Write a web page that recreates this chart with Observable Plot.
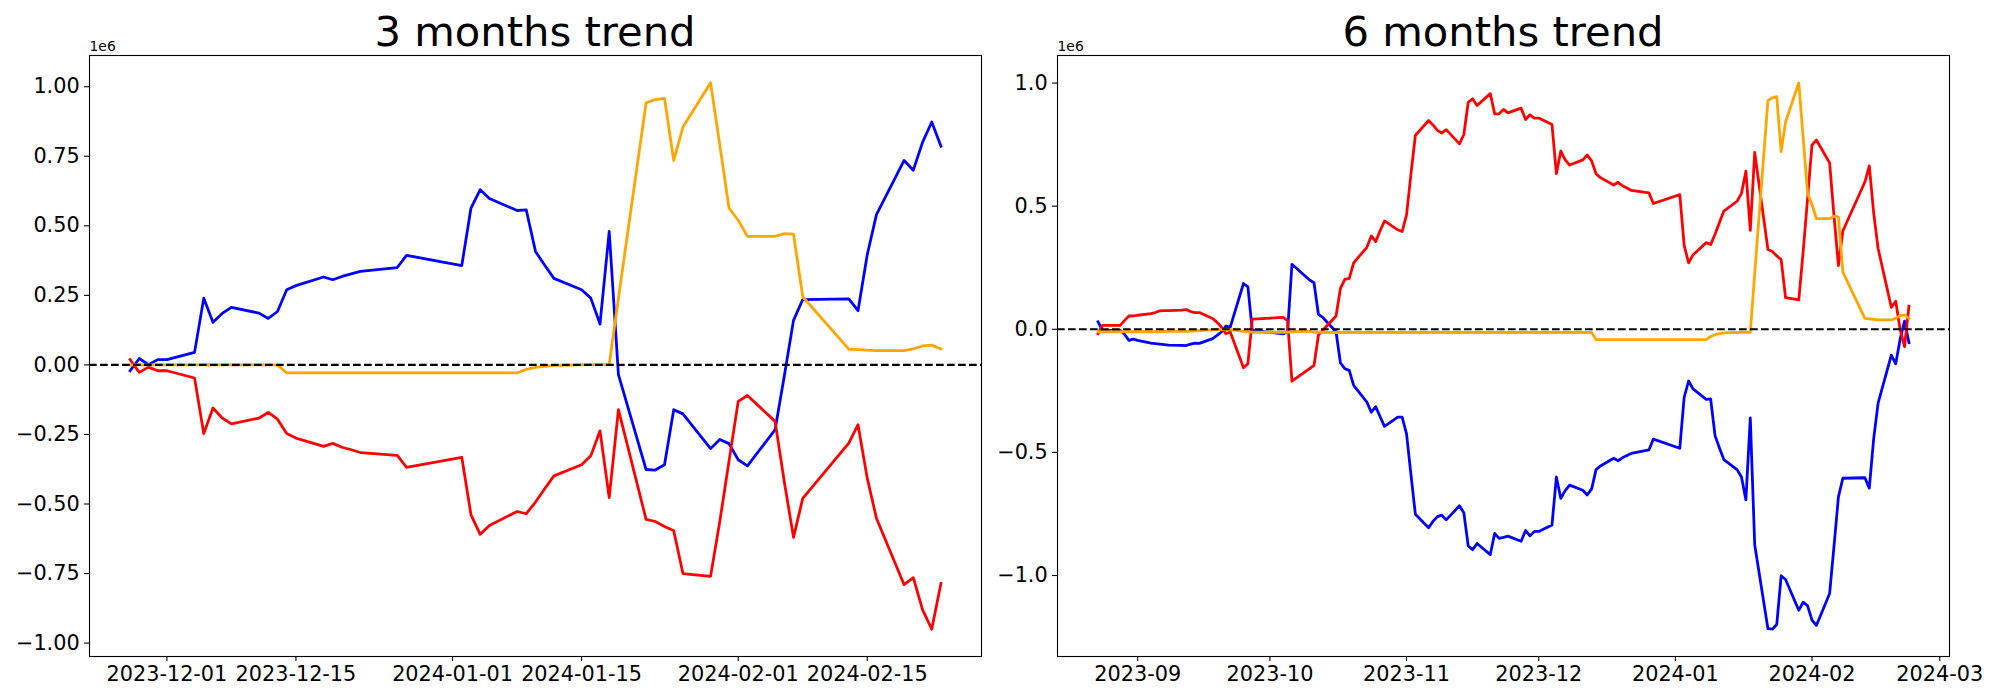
<!DOCTYPE html>
<html><head><meta charset="utf-8">
<script src="https://cdn.jsdelivr.net/npm/d3@7"></script>
<script src="https://cdn.jsdelivr.net/npm/@observablehq/plot@0.6"></script>
<style>
body{margin:0;background:#fff;}
#fig{position:relative;width:2000px;height:700px;font-family:"DejaVu Sans",sans-serif;background:#fff;}
.panel{position:absolute;top:0;}
.title{position:absolute;top:11px;font-size:41.7px;line-height:1;white-space:nowrap;transform:translateX(-50%);color:#000;font-family:"DejaVu Sans",sans-serif;}
</style></head><body>
<div id="fig"></div>
<script>
// ---------- 3 months panel ----------
const dates3 = [
"2023-11-27","2023-11-28","2023-11-29","2023-11-30","2023-12-01",
"2023-12-04","2023-12-05","2023-12-06","2023-12-07","2023-12-08",
"2023-12-11","2023-12-12","2023-12-13","2023-12-14","2023-12-15",
"2023-12-18","2023-12-19","2023-12-20","2023-12-21","2023-12-22",
"2023-12-26","2023-12-27",
"2024-01-02","2024-01-03","2024-01-04","2024-01-05",
"2024-01-08","2024-01-09","2024-01-10","2024-01-11","2024-01-12",
"2024-01-15","2024-01-16","2024-01-17","2024-01-18","2024-01-19",
"2024-01-22","2024-01-23","2024-01-24","2024-01-25","2024-01-26",
"2024-01-29","2024-01-30","2024-01-31","2024-02-01","2024-02-02",
"2024-02-05","2024-02-06","2024-02-07","2024-02-08",
"2024-02-13","2024-02-14","2024-02-15","2024-02-16",
"2024-02-19","2024-02-20","2024-02-21","2024-02-22","2024-02-23"];
const blue3 = [
-0.021,0.023,0.001,0.019,0.019,
0.045,0.240,0.153,0.185,0.207,
0.186,0.167,0.192,0.270,0.285,
0.316,0.306,0.318,0.327,0.336,
0.350,0.394,
0.357,0.564,0.630,0.598,
0.555,0.557,0.408,0.358,0.311,
0.270,0.240,0.147,0.480,-0.035,
-0.376,-0.378,-0.359,-0.161,-0.176,
-0.301,-0.268,-0.283,-0.341,-0.363,
-0.233,-0.040,0.160,0.235,
0.237,0.195,0.396,0.540,
0.735,0.700,0.800,0.873,0.786];
const red3 = [
0.019,-0.027,-0.008,-0.021,-0.021,
-0.047,-0.247,-0.155,-0.191,-0.212,
-0.191,-0.171,-0.195,-0.247,-0.263,
-0.293,-0.282,-0.296,-0.305,-0.315,
-0.325,-0.368,
-0.332,-0.539,-0.609,-0.577,
-0.527,-0.535,-0.493,-0.445,-0.399,
-0.359,-0.327,-0.237,-0.477,-0.161,
-0.555,-0.563,-0.581,-0.596,-0.750,
-0.760,-0.563,-0.346,-0.131,-0.110,
-0.203,-0.420,-0.620,-0.480,
-0.281,-0.215,-0.407,-0.551,
-0.790,-0.765,-0.880,-0.950,-0.785];
const orange3 = [
0,0,0,0,0,
0,0,0,0,0,
0,0,0,-0.029,-0.029,
-0.029,-0.029,-0.029,-0.029,-0.029,
-0.029,-0.029,
-0.029,-0.029,-0.029,-0.029,
-0.029,-0.016,-0.009,-0.005,-0.002,
0.000,0.001,0.001,0.001,0.240,
0.942,0.954,0.958,0.735,0.855,
1.014,0.790,0.564,0.520,0.462,
0.462,0.472,0.470,0.245,
0.057,0.055,0.053,0.051,
0.051,0.058,0.068,0.071,0.057];
const xTicks3 = ["2023-12-01","2023-12-15","2024-01-01","2024-01-15","2024-02-01","2024-02-15"];
const yTicks3 = [-1,-0.75,-0.5,-0.25,0,0.25,0.5,0.75,1];

// ---------- 6 months panel ----------
const dates6 = [
"2023-08-23","2023-08-24","2023-08-25","2023-08-28","2023-08-29","2023-08-30","2023-08-31",
"2023-09-01","2023-09-04","2023-09-05","2023-09-06","2023-09-07","2023-09-08",
"2023-09-11","2023-09-12","2023-09-13","2023-09-14","2023-09-15",
"2023-09-18","2023-09-19","2023-09-20","2023-09-21","2023-09-22",
"2023-09-25","2023-09-26","2023-09-27",
"2023-10-04","2023-10-05","2023-10-06",
"2023-10-10","2023-10-11","2023-10-12","2023-10-13",
"2023-10-16","2023-10-17","2023-10-18","2023-10-19","2023-10-20",
"2023-10-23","2023-10-24","2023-10-25","2023-10-26","2023-10-27",
"2023-10-30","2023-10-31","2023-11-01","2023-11-02","2023-11-03",
"2023-11-06","2023-11-07","2023-11-08","2023-11-09","2023-11-10",
"2023-11-13","2023-11-14","2023-11-15","2023-11-16","2023-11-17",
"2023-11-20","2023-11-21","2023-11-22","2023-11-23","2023-11-24",
"2023-11-27","2023-11-28","2023-11-29","2023-11-30","2023-12-01",
"2023-12-04","2023-12-05","2023-12-06","2023-12-07","2023-12-08",
"2023-12-11","2023-12-12","2023-12-13","2023-12-14","2023-12-15",
"2023-12-18","2023-12-19","2023-12-20","2023-12-21","2023-12-22",
"2023-12-26","2023-12-27",
"2024-01-02","2024-01-03","2024-01-04","2024-01-05",
"2024-01-08","2024-01-09","2024-01-10","2024-01-11","2024-01-12",
"2024-01-15","2024-01-16","2024-01-17","2024-01-18","2024-01-19",
"2024-01-22","2024-01-23","2024-01-24","2024-01-25","2024-01-26",
"2024-01-29","2024-01-30","2024-01-31","2024-02-01","2024-02-02",
"2024-02-05","2024-02-06","2024-02-07","2024-02-08",
"2024-02-13","2024-02-14","2024-02-15","2024-02-16",
"2024-02-19","2024-02-20","2024-02-21","2024-02-22","2024-02-23"];
const blue6 = [
0.030,-0.004,-0.004,-0.004,-0.020,-0.045,-0.040,
-0.045,-0.056,-0.058,-0.060,-0.062,-0.064,
-0.065,-0.066,-0.060,-0.056,-0.057,
-0.038,-0.025,-0.011,0.013,0.009,
0.186,0.172,-0.004,
-0.019,-0.010,0.264,
0.200,0.189,0.061,0.048,
-0.010,-0.137,-0.160,-0.167,-0.228,
-0.296,-0.337,-0.314,-0.355,-0.394,
-0.357,-0.357,-0.425,-0.590,-0.751,
-0.806,-0.780,-0.761,-0.755,-0.774,
-0.717,-0.745,-0.880,-0.895,-0.870,
-0.915,-0.829,-0.849,-0.845,-0.840,
-0.861,-0.817,-0.839,-0.821,-0.821,
-0.795,-0.600,-0.687,-0.655,-0.633,
-0.654,-0.673,-0.648,-0.570,-0.555,
-0.524,-0.534,-0.522,-0.513,-0.504,
-0.490,-0.446,
-0.483,-0.276,-0.210,-0.242,
-0.285,-0.283,-0.432,-0.482,-0.529,
-0.570,-0.600,-0.693,-0.360,-0.875,
-1.216,-1.218,-1.199,-1.001,-1.016,
-1.141,-1.108,-1.123,-1.181,-1.203,
-1.073,-0.880,-0.680,-0.605,
-0.603,-0.645,-0.444,-0.300,
-0.105,-0.140,-0.040,0.033,-0.054];
const red6 = [
-0.018,0.016,0.016,0.016,0.035,0.054,0.054,
0.057,0.064,0.068,0.075,0.076,0.076,
0.078,0.080,0.072,0.068,0.068,
0.044,0.028,0.009,-0.018,-0.011,
-0.156,-0.140,0.041,
0.048,0.035,-0.211,
-0.160,-0.147,-0.024,-0.004,
0.054,0.166,0.203,0.207,0.270,
0.333,0.379,0.356,0.400,0.440,
0.404,0.397,0.465,0.630,0.787,
0.848,0.830,0.808,0.797,0.811,
0.753,0.791,0.922,0.936,0.909,
0.957,0.875,0.875,0.893,0.879,
0.898,0.852,0.871,0.858,0.858,
0.832,0.632,0.724,0.688,0.667,
0.688,0.708,0.684,0.632,0.616,
0.586,0.597,0.583,0.574,0.564,
0.554,0.511,
0.547,0.340,0.270,0.302,
0.352,0.344,0.386,0.434,0.480,
0.520,0.552,0.642,0.402,0.718,
0.324,0.316,0.298,0.283,0.129,
0.119,0.316,0.533,0.748,0.769,
0.676,0.459,0.259,0.399,
0.598,0.664,0.472,0.328,
0.089,0.114,-0.001,-0.071,0.094];
const orange6 = [
-0.010,-0.010,-0.010,-0.010,-0.010,-0.010,-0.010,
-0.010,-0.010,-0.010,-0.010,-0.009,-0.008,
-0.008,-0.008,-0.007,-0.006,-0.005,
-0.002,-0.001,-0.001,-0.001,-0.001,
-0.008,-0.010,-0.012,
-0.012,-0.012,-0.010,
-0.008,-0.012,-0.012,-0.012,
-0.013,-0.013,-0.013,-0.013,-0.013,
-0.013,-0.013,-0.013,-0.013,-0.013,
-0.013,-0.013,-0.013,-0.013,-0.013,
-0.013,-0.013,-0.013,-0.013,-0.013,
-0.013,-0.013,-0.013,-0.013,-0.013,
-0.013,-0.013,-0.013,-0.013,-0.013,
-0.013,-0.013,-0.013,-0.013,-0.013,
-0.013,-0.013,-0.013,-0.013,-0.013,
-0.013,-0.013,-0.013,-0.042,-0.042,
-0.042,-0.042,-0.042,-0.042,-0.042,
-0.042,-0.042,
-0.042,-0.042,-0.042,-0.042,
-0.042,-0.029,-0.022,-0.018,-0.015,
-0.013,-0.012,-0.012,-0.012,0.227,
0.929,0.941,0.945,0.722,0.842,
1.001,0.777,0.551,0.507,0.449,
0.449,0.459,0.457,0.232,
0.044,0.042,0.040,0.038,
0.038,0.045,0.055,0.058,0.044];
const xTicks6 = ["2023-09-01","2023-10-01","2023-11-01","2023-12-01","2024-01-01","2024-02-01","2024-03-01"];
const yTicks6 = [-1,-0.5,0,0.5,1];

const titles = ["3 months trend","6 months trend"];
const seriesColors = ["blue","red","orange"];

const parse = d3.utcParse("%Y-%m-%d");

function makePanel(dates, seriesVals, xTicks, xFmt, yTicks, yFmt, w, ml, mr) {
  const ds = dates.map(parse);
  const xExt = d3.extent(ds);
  const span = xExt[1] - xExt[0];
  const xDomain = [new Date(+xExt[0] - 0.05 * span), new Date(+xExt[1] + 0.05 * span)];
  const all = [].concat(...seriesVals);
  const yMin = d3.min(all), yMax = d3.max(all);
  const ys = yMax - yMin;
  const yDomain = [yMin - 0.05 * ys, yMax + 0.05 * ys];
  const lines = seriesVals.map((vals, k) =>
    Plot.line(ds.map((d, i) => ({date: d, value: vals[i]})), {
      x: "date", y: "value", stroke: seriesColors[k], strokeWidth: 2.78,
      strokeLinejoin: "round", strokeLinecap: "square"
    }));
  return Plot.plot({
    width: w, height: 700,
    marginLeft: ml, marginRight: mr, marginTop: 55, marginBottom: 44,
    x: {type: "utc", domain: xDomain},
    y: {domain: yDomain},
    style: {fontFamily: "DejaVu Sans", fontSize: "20.8px", color: "black", background: "transparent", overflow: "visible"},
    marks: [
      ...lines,
      Plot.ruleY([0], {stroke: "black", strokeWidth: 2.1, strokeDasharray: "7.7,3.3"}),
      Plot.frame({stroke: "black", strokeWidth: 1.1}),
      Plot.axisX({ticks: xTicks.map(parse), tickFormat: d3.utcFormat(xFmt), tickSize: 4.9, tickPadding: 4.9,
                  fontSize: 20.8, strokeWidth: 1.1, label: null}),
      Plot.axisY({ticks: yTicks, tickFormat: d3.format(yFmt), tickSize: 4.9, tickPadding: 4.9,
                  fontSize: 20.8, strokeWidth: 1.1, label: null}),
      Plot.text(["1e6"], {frameAnchor: "top-left", textAnchor: "start", lineAnchor: "bottom", dy: -5, fontSize: 13.9})
    ]
  });
}

const fig = document.getElementById("fig");
// left panel: svg 0..985, frame 89..981 ; right panel: svg 985..2000, frame 1057..1949
const p1 = makePanel(dates3, [blue3, red3, orange3], xTicks3, "%Y-%m-%d", yTicks3, ".2f", 985, 89, 4);
const p2 = makePanel(dates6, [blue6, red6, orange6], xTicks6, "%Y-%m", yTicks6, ".1f", 1015, 72, 51);
const lefts = [0, 985];
const titleX = [535, 1503];
[p1, p2].forEach((p, i) => {
  const wrap = document.createElement("div");
  wrap.className = "panel";
  wrap.style.left = lefts[i] + "px";
  wrap.appendChild(p);
  fig.appendChild(wrap);
  const t = document.createElement("div");
  t.className = "title";
  t.textContent = titles[i];
  t.style.left = titleX[i] + "px";
  fig.appendChild(t);
});
</script>
</body></html>
